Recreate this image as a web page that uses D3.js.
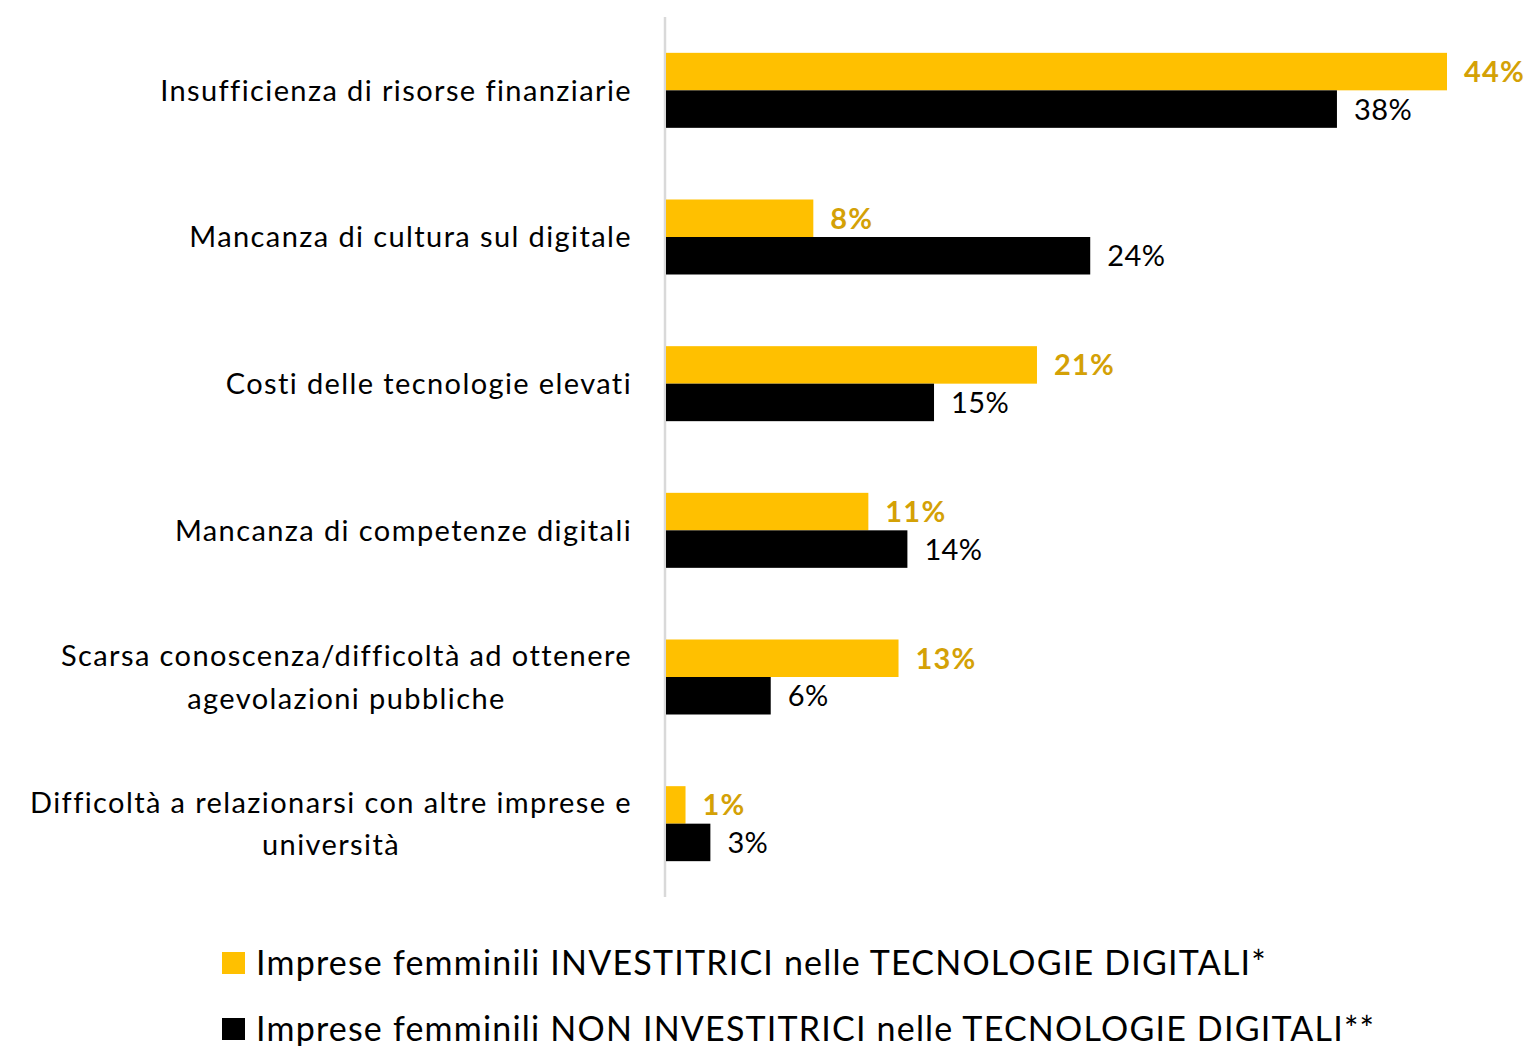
<!DOCTYPE html>
<html>
<head>
<meta charset="utf-8">
<script src="https://cdn.jsdelivr.net/npm/d3@7"></script>
<style>
  body { margin: 0; background: #fff; }
  svg { display: block; font-family: Lato, "Open Sans", sans-serif; font-variant-ligatures: none; }
</style>
</head>
<body>
<div id="chart"></div>
<script>
// Data
const categories = [
  ["Insufficienza di risorse finanziarie"],
  ["Mancanza di cultura sul digitale"],
  ["Costi delle tecnologie elevati"],
  ["Mancanza di competenze digitali"],
  ["Scarsa conoscenza/difficoltà ad ottenere", "agevolazioni pubbliche"],
  ["Difficoltà a relazionarsi con altre imprese e", "università"]
];
const investitrici = [44.0, 8.3, 20.9, 11.4, 13.1, 1.1];
const nonInvestitrici = [37.8, 23.9, 15.1, 13.6, 5.9, 2.5];
const seriesNames = [
  "Imprese femminili INVESTITRICI nelle TECNOLOGIE DIGITALI*",
  "Imprese femminili NON INVESTITRICI nelle TECNOLOGIE DIGITALI**"
];

const width = 1530, height = 1046;
const svg = d3.select("#chart").append("svg")
  .attr("width", width)
  .attr("height", height);

const x0 = 666;
const x = d3.scaleLinear().domain([0, 44]).range([x0, 1447]);

const y = d3.scaleBand()
  .domain(d3.range(categories.length))
  .range([17, 897]);

const barH = 37.5;
const ySub = d3.scaleBand().domain([0, 1]).range([-barH, barH]);

const colors = ["#FFC000", "#000000"];
const labelColors = ["#D4A106", "#000000"];

// category axis line
svg.append("line")
  .attr("x1", 665).attr("x2", 665)
  .attr("y1", 17).attr("y2", 897)
  .attr("stroke", "#d9d9d9")
  .attr("stroke-width", 2.5);

const data = categories.map((c, i) => ({
  i: i,
  lines: c,
  vals: [investitrici[i], nonInvestitrici[i]]
}));

const groups = svg.selectAll(".grp")
  .data(data)
  .enter().append("g")
  .attr("class", "grp")
  .attr("transform", d => `translate(0,${y(d.i) + y.bandwidth() / 2})`);

groups.selectAll("rect")
  .data(d => d.vals.map((v, s) => ({ v, s })))
  .enter().append("rect")
  .attr("x", x0)
  .attr("y", d => ySub(d.s))
  .attr("width", d => x(d.v) - x0)
  .attr("height", ySub.bandwidth())
  .attr("fill", d => colors[d.s]);

groups.selectAll(".val")
  .data(d => d.vals.map((v, s) => ({ v, s })))
  .enter().append("text")
  .attr("class", "val")
  .attr("x", d => x(d.v) + 17)
  .attr("y", d => ySub(d.s) + ySub.bandwidth() / 2)
  .attr("dy", "0.36em")
  .attr("font-size", 29)
  .attr("letter-spacing", d => d.s === 0 ? 1.2 : 0.4)
  .attr("font-weight", d => d.s === 0 ? "bold" : "normal")
  .attr("fill", d => labelColors[d.s])
  .text(d => Math.round(d.v) + "%");

// category labels (multi-line blocks are centred, block right edge at 632)
groups.each(function(d) {
  const g = d3.select(this);
  const t = g.append("text")
    .attr("font-size", 29)
    .attr("letter-spacing", 1.4)
    .attr("fill", "#000")
    .attr("text-anchor", "middle");
  const lh = 42.5;
  const n = d.lines.length;
  d.lines.forEach((l, k) => {
    t.append("tspan")
      .attr("y", (k - (n - 1) / 2) * lh)
      .attr("dy", "0.36em")
      .text(l);
  });
  let maxW = 0;
  t.selectAll("tspan").each(function() {
    maxW = Math.max(maxW, this.getComputedTextLength());
  });
  t.selectAll("tspan").attr("x", 632 - maxW / 2);
});

// legend
const legend = svg.append("g");
seriesNames.forEach((name, s) => {
  const ly = 963 + s * 66;
  legend.append("rect")
    .attr("x", 222).attr("y", ly - 11)
    .attr("width", 23).attr("height", 22)
    .attr("fill", colors[s]);
  legend.append("text")
    .attr("x", 256).attr("y", ly)
    .attr("dy", "0.36em")
    .attr("font-size", 34)
    .attr("letter-spacing", 1.2)
    .attr("fill", "#000")
    .text(name);
});
</script>
</body>
</html>
